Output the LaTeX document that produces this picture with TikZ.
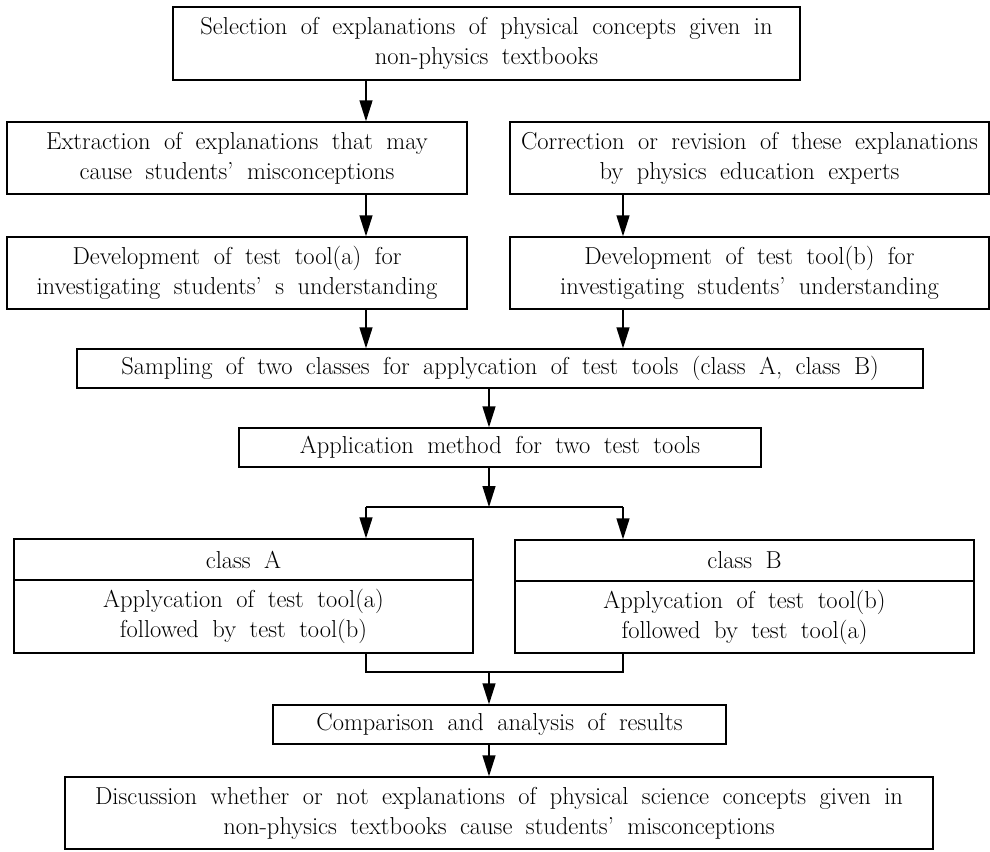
\documentclass[tikz,border=0pt]{standalone}
\usetikzlibrary{arrows.meta}
\newcommand\boxfont{\fontsize{24.5}{30}\selectfont\spaceskip=0.55em plus 0.1em minus 0.1em\relax}
\begin{document}
\begin{tikzpicture}[x=1pt,y=-1pt,
  box/.style={draw, line width=1.4pt, inner sep=0pt, align=center, font=\boxfont},
  arr/.style={line width=1.4pt, -{Triangle[length=21pt,width=13pt]}},
  ln/.style={line width=1.4pt}]
\useasboundingbox (0,0) rectangle (990,851);
\coordinate (L) at (366,0);
\coordinate (R) at (623,0);
\coordinate (M) at (489,0);
\node[box, minimum width=627pt, minimum height=73pt] (sel) at (486.5,43.5)
  {Selection of explanations of physical concepts given in\\non-physics textbooks};
\node[box, minimum width=460pt, minimum height=72pt] (ext) at (237,158)
  {Extraction of explanations that may\\cause students’ misconceptions};
\node[box, minimum width=479pt, minimum height=72pt] (cor) at (749.5,158)
  {Correction or revision of these explanations\\by physics education experts};
\node[box, minimum width=460pt, minimum height=72pt] (dva) at (237,273)
  {Development of test tool(a) for\\investigating students’ s understanding};
\node[box, minimum width=479pt, minimum height=72pt] (dvb) at (749.5,273)
  {Development of test tool(b) for\\investigating students’ understanding};
\node[box, minimum width=846pt, minimum height=39pt] (samp) at (500,368.5)
  {Sampling of two classes for applycation of test tools (class A, class B)};
\node[box, minimum width=522pt, minimum height=39pt] (app) at (500,447.5)
  {Application method for two test tools};
\node[box, minimum width=459pt, minimum height=41pt] (clAh) at (243.5,559.5) {class A};
\node[box, minimum width=459pt, minimum height=73pt] (clAb) at (243.5,616.5)
  {Applycation of test tool(a)\\followed by test tool(b)};
\node[box, minimum width=459pt, minimum height=41pt] (clBh) at (744.5,560.5) {class B};
\node[box, minimum width=459pt, minimum height=72pt] (clBb) at (744.5,617)
  {Applycation of test tool(b)\\followed by test tool(a)};
\node[box, minimum width=453pt, minimum height=39pt] (comp) at (499.5,724.5)
  {Comparison and analysis of results};
\node[box, minimum width=868pt, minimum height=72pt] (disc) at (499,813)
  {Discussion whether or not explanations of physical science concepts given in\\non-physics textbooks cause students’ misconceptions};
\draw[arr] (sel.south -| L) -- (ext.north -| L);
\draw[arr] (ext.south -| L) -- (dva.north -| L);
\draw[arr] (cor.south -| R) -- (dvb.north -| R);
\draw[arr] (dva.south -| L) -- (samp.north -| L);
\draw[arr] (dvb.south -| R) -- (samp.north -| R);
\draw[arr] (samp.south -| M) -- (app.north -| M);
\coordinate (fork) at (489,507);
\draw[arr] (app.south -| M) -- (fork);
\draw[ln] (fork -| L) -- (fork -| R);
\draw[arr] (fork -| L) -- (clAh.north -| L);
\draw[arr] (fork -| R) -- (clBh.north -| R);
\coordinate (join) at (489,672);
\draw[ln] (clAb.south -| L) |- (join);
\draw[ln] (clBb.south -| R) |- (join);
\draw[arr] (join) -- (comp.north -| M);
\draw[arr] (comp.south -| M) -- (disc.north -| M);
\end{tikzpicture}
\end{document}
